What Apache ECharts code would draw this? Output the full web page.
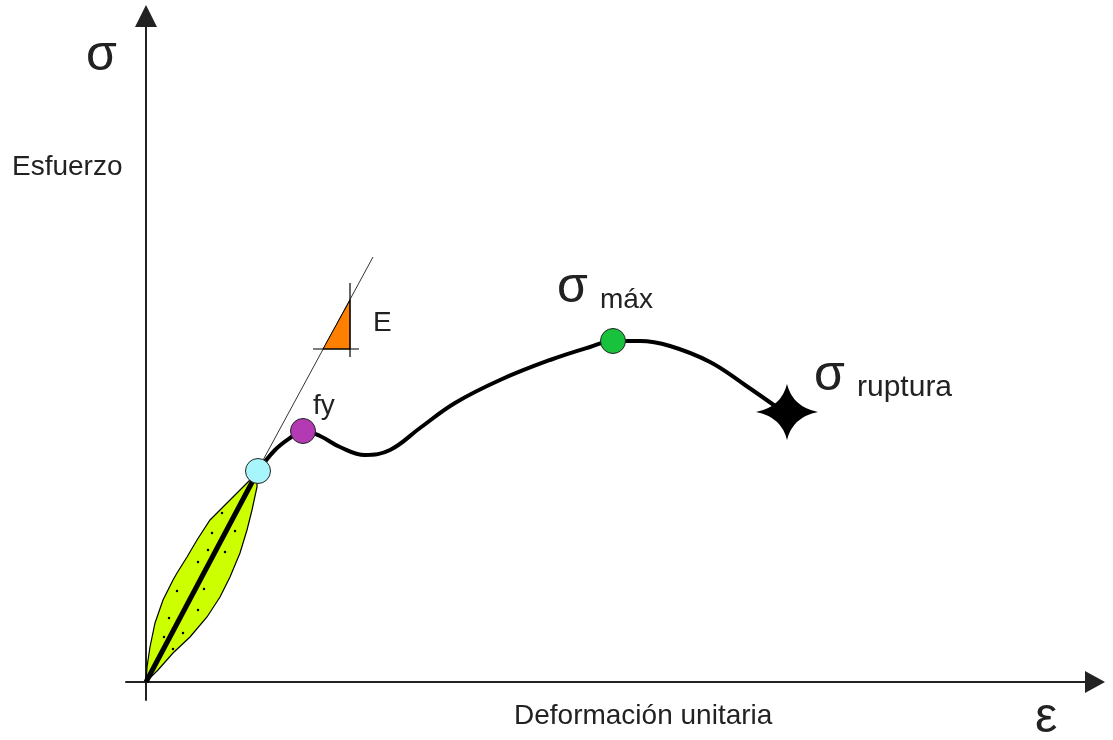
<!DOCTYPE html>
<html><head><meta charset="utf-8">
<script src="https://cdn.jsdelivr.net/npm/echarts@6/dist/echarts.min.js"></script>
<style>html,body{margin:0;padding:0;background:#fff}#c{width:1113px;height:740px}</style>
</head><body><div id="c"></div>
<script>
// main stress-strain curve (strain, stress) in drawing units
const curveX = [112,129,144,157,174,194,219,244,274,309,354,404,444,467,494,524,564,599,639];
const curveY = [211,232,244,251,246,235,227,232,254,279,302,322,335,341,341,336,320,297,269];
// elastic line
const elasticX = [0,112];
const elasticY = [0,211];
// hysteresis lens (left arc up, right arc down)
const lensX = [0,1,4,9,17,27,31,41,51,64,87,104,111, 111,106,101,94,84,74,61,44,27,12,0];
const lensY = [0,15,35,59,82,102,109,125,142,162,185,202,210, 195,172,152,129,105,85,65,45,29,12,0];
const dotX = [76,66,89,62,79,52,31,58,23,52,18,37,27];
const dotY = [169,149,151,132,130,120,91,93,64,72,45,49,33];
// tangent (modulus E)
const tangentX = [116,227];
const tangentY = [220,425];
const triX = [204,177,204];
const triY = [382,333,333];
const tickHX = [167,213], tickHY = [333,333];
const tickVX = [204,204], tickVY = [399,325];
// key points
const pointNames = ['límite elástico','fy','σ máx'];
const pointX = [112,157,467];
const pointY = [211,251,341];
const pointColors = ['#a6f6fb','#b43ab4','#19c23c'];
const ruptureX = [641], ruptureY = [270];

const chart = echarts.init(document.getElementById('c'));
const zip = (a,b)=>a.map((v,i)=>[v,b[i]]);
const polyItem = (xs, ys, fill, lw) => (params, api) => ({
  type:'polygon',
  shape:{points: xs.map((x,i)=>api.coord([x,ys[i]]))},
  style:{fill:fill, stroke:'#000', lineWidth:lw}
});
const font = 'Liberation Sans, Arial, sans-serif';
const txt = (x,y,t,size,color) => ({type:'text', x:x, y:y, style:{text:t, font: size+'px '+font, fill:color||'#222', textVerticalAlign:'middle'}});

chart.setOption({
  animation:false,
  grid:{left:126, top:16, width:969, height:684},
  xAxis:{type:'value', min:-20, max:949, axisLine:{onZero:true, lineStyle:{color:'#222', width:2}, symbol:['none','triangle'], symbolSize:[22,20]},
    axisTick:{show:false}, axisLabel:{show:false}, splitLine:{show:false}},
  yAxis:{type:'value', min:-18, max:666, axisLine:{onZero:true, lineStyle:{color:'#222', width:2}, symbol:['none','triangle'], symbolSize:[22,22]},
    axisTick:{show:false}, axisLabel:{show:false}, splitLine:{show:false}},
  series:[
    {type:'custom', data:[[0,0]], renderItem: polyItem(lensX, lensY, '#ccff00', 1.2), z:1},
    {type:'scatter', data: zip(dotX,dotY), symbolSize:2.5, itemStyle:{color:'#000', opacity:1}, z:2},
    {type:'line', data: zip(elasticX,elasticY), symbol:'none', lineStyle:{color:'#000', width:5}, z:3},
    {type:'line', data: zip(tangentX,tangentY), symbol:'none', lineStyle:{color:'#333', width:1}, z:3},
    {type:'custom', data:[[0,0]], renderItem: polyItem(triX, triY, '#ff8000', 1), z:4},
    {type:'line', data: zip(tickHX,tickHY), symbol:'none', lineStyle:{color:'#000', width:1.2}, z:4},
    {type:'line', data: zip(tickVX,tickVY), symbol:'none', lineStyle:{color:'#000', width:1.2}, z:4},
    {type:'line', data: zip(curveX,curveY), smooth:0.4, symbol:'none', lineStyle:{color:'#000', width:4}, z:5},
    {type:'scatter', data: pointX.map((x,i)=>({name:pointNames[i], value:[x,pointY[i]], itemStyle:{color:pointColors[i]}})),
      symbolSize:25, itemStyle:{borderColor:'#222', borderWidth:1, opacity:1}, z:6},
    {type:'scatter', data: zip(ruptureX,ruptureY), symbol:'path://M0,-10 Q1.8,-1.8 10,0 Q1.8,1.8 0,10 Q-1.8,1.8 -10,0 Q-1.8,-1.8 0,-10Z',
      symbolSize:[62,56], itemStyle:{color:'#000', opacity:1}, z:6}
  ],
  graphic:[
    txt(86,56,'σ',50),
    txt(12,167,'Esfuerzo',28),
    txt(373,323,'E',28),
    txt(313,406,'fy',28),
    txt(557,288,'σ',50),
    txt(600,300,'máx',28),
    txt(814,376,'σ',50),
    txt(857,388,'ruptura',30),
    txt(514,716,'Deformación unitaria',28),
    txt(1035,718,'ε',50)
  ]
});
</script></body></html>
